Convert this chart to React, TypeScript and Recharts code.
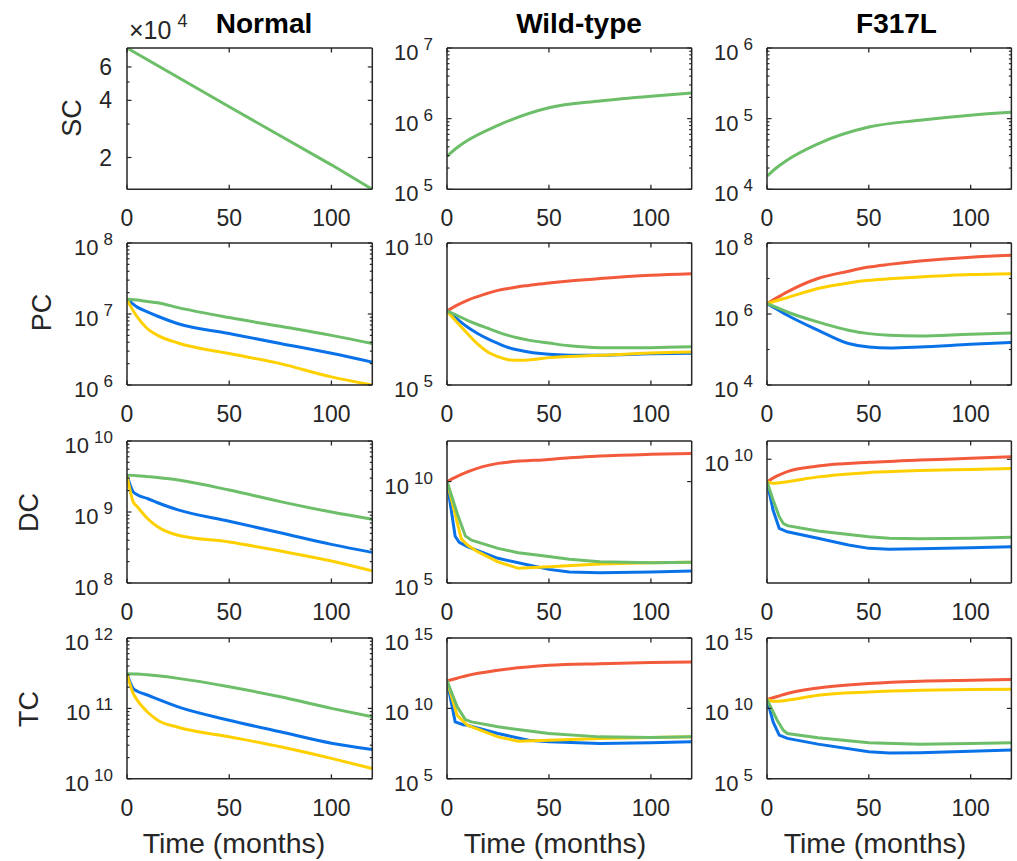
import React from 'react';
import { LineChart, Line, XAxis, YAxis } from 'recharts';

const FONT = '"Liberation Sans", Arial, Helvetica, sans-serif';
const AX = '#262626';
const RED = '#F25A3C';
const BLUE = '#0A72E8';
const YELLOW = '#FFD000';
const GREEN = '#6DBE69';

// ---------- data (months, cell counts) ----------
// SC
const T_SC_N = [0, 50, 100, 120];
const SC_N_G = [75500, 37000, 18300, 13600];
const T_SC_W = [0, 5, 10, 25, 50, 75, 100, 120];
const SC_W_G = [2.93e5, 3.9e5, 4.9e5, 8.05e5, 1.43e6, 1.78e6, 2.08e6, 2.3e6];
const T_SC_F = [0, 5, 10, 25, 50, 75, 100, 120];
const SC_F_G = [1.53e4, 2.05e4, 2.6e4, 4.4e4, 7.6e4, 9.5e4, 1.12e5, 1.23e5];

// PC
const T_PC_N = [0, 2, 5, 10, 15, 25, 50, 75, 100, 120];
const PC_N_G = [1.61e7, 1.6e7, 1.57e7, 1.5e7, 1.44e7, 1.23e7, 8.9e6, 6.7e6, 5.0e6, 3.83e6];
const PC_N_B = [1.61e7, 1.45e7, 1.25e7, 1.07e7, 9.3e6, 7.3e6, 5.3e6, 3.85e6, 2.8e6, 2.1e6];
const PC_N_Y = [1.61e7, 1.25e7, 9.1e6, 6.2e6, 5.0e6, 3.9e6, 2.77e6, 2.0e6, 1.3e6, 1.0e6];

const T_PC_W = [0, 5, 10, 15, 20, 25, 30, 35, 40, 50, 60, 75, 100, 120];
const PC_W_R = [4.0e7, 6.5e7, 9.6e7, 1.3e8, 1.7e8, 2.15e8, 2.5e8, 2.9e8, 3.2e8, 3.9e8, 4.6e8, 5.6e8, 7.3e8, 8.3e8];
const PC_W_G = [4e7, 2.8e7, 1.9e7, 1.35e7, 1.0e7, 7.3e6, 5.6e6, 4.5e6, 3.8e6, 3.0e6, 2.4e6, 2.07e6, 2.07e6, 2.2e6];
const PC_W_B = [4e7, 2.1e7, 1.1e7, 6.5e6, 4.2e6, 2.9e6, 2.1e6, 1.7e6, 1.45e6, 1.2e6, 1.12e6, 1.11e6, 1.26e6, 1.3e6];
const PC_W_Y = [4e7, 1.6e7, 6.5e6, 2.8e6, 1.45e6, 1.0e6, 7.8e5, 7.4e5, 7.6e5, 9.2e5, 1.0e6, 1.11e6, 1.34e6, 1.45e6];

const T_PC_F = [0, 5, 10, 25, 40, 50, 60, 75, 100, 120];
const PC_F_R = [1.96e6, 2.9e6, 4.2e6, 1.0e7, 1.6e7, 2.1e7, 2.5e7, 3.1e7, 4.0e7, 4.5e7];
const PC_F_Y = [1.96e6, 2.4e6, 2.9e6, 5.2e6, 7.5e6, 8.9e6, 9.8e6, 1.1e7, 1.29e7, 1.37e7];
const PC_F_G = [1.96e6, 1.5e6, 1.14e6, 5.96e5, 3.5e5, 2.8e5, 2.5e5, 2.4e5, 2.7e5, 2.9e5];
const PC_F_B = [1.96e6, 1.35e6, 9.2e5, 3.5e5, 1.47e5, 1.17e5, 1.1e5, 1.17e5, 1.4e5, 1.59e5];

// DC
const T_DC_N = [0, 3, 5, 10, 15, 25, 50, 75, 100, 120];
const DC_N_G = [3.3e9, 3.28e9, 3.25e9, 3.15e9, 3.05e9, 2.82e9, 2.04e9, 1.4e9, 1.0e9, 7.9e8];
const DC_N_B = [3.3e9, 1.93e9, 1.75e9, 1.55e9, 1.35e9, 1.07e9, 7.4e8, 5.1e8, 3.5e8, 2.7e8];
const DC_N_Y = [3.3e9, 1.4e9, 1.19e9, 8.1e8, 6.2e8, 4.7e8, 3.78e8, 2.82e8, 2.04e8, 1.48e8];

const T_DC_W_R = [0, 5, 10, 25, 50, 75, 100, 120];
const DC_W_R = [1e10, 1.8e10, 3.0e10, 7.9e10, 1.24e11, 1.8e11, 2.2e11, 2.45e11];
const T_DC_W_G = [0, 5, 9, 12, 25, 35, 50, 60, 75, 100, 120];
const DC_W_G = [1e10, 2.7e8, 2.1e7, 1.3e7, 5.1e6, 3.1e6, 2.0e6, 1.47e6, 1.12e6, 1.0e6, 1.05e6];
const T_DC_W_B = [0, 4, 6, 10, 25, 40, 50, 60, 75, 100, 120];
const DC_W_B = [1e10, 2e7, 1.0e7, 6.2e6, 1.65e6, 7.7e5, 4.7e5, 3.5e5, 3.2e5, 3.5e5, 3.9e5];
const T_DC_W_Y = [0, 4, 7, 10, 15, 25, 35, 50, 75, 100, 120];
const DC_W_Y = [1e10, 2.5e8, 1.5e7, 7.4e6, 3.5e6, 1.1e6, 5.3e5, 6.3e5, 8.6e5, 1.0e6, 1.05e6];

const T_DC_F_R = [0, 5, 10, 25, 50, 75, 100, 120];
const DC_F_R = [1.62e9, 2.6e9, 3.7e9, 5.8e9, 7.8e9, 9.4e9, 1.08e10, 1.23e10];
const T_DC_F_Y = [0, 3, 10, 25, 50, 75, 100, 120];
const DC_F_Y = [1.62e9, 1.42e9, 1.62e9, 2.4e9, 3.4e9, 4e9, 4.4e9, 4.7e9];
const T_DC_F_G = [0, 3, 6, 8, 10, 25, 50, 60, 75, 100, 120];
const DC_F_G = [1.62e9, 3.7e8, 9.5e7, 5.5e7, 4.6e7, 3e7, 1.87e7, 1.65e7, 1.6e7, 1.65e7, 1.8e7];
const T_DC_F_B = [0, 3, 6, 10, 25, 40, 50, 60, 75, 100, 120];
const DC_F_B = [1.62e9, 1.6e8, 3.7e7, 2.8e7, 1.65e7, 9.6e6, 7.3e6, 6.8e6, 7.0e6, 7.7e6, 8.3e6];

// TC
const T_TC_N = [0, 3, 5, 10, 15, 25, 50, 75, 100, 120];
const TC_N_G = [3.1e11, 3.09e11, 3.08e11, 3.0e11, 2.9e11, 2.67e11, 2.03e11, 1.46e11, 1.0e11, 7.6e10];
const TC_N_B = [3.1e11, 1.92e11, 1.75e11, 1.55e11, 1.35e11, 1.05e11, 6.8e10, 4.65e10, 3.2e10, 2.6e10];
const TC_N_Y = [3.1e11, 1.63e11, 1.31e11, 8.9e10, 6.8e10, 5.4e10, 3.95e10, 2.85e10, 1.95e10, 1.4e10];

const T_TC_W_R = [0, 5, 10, 25, 50, 75, 100, 120];
const TC_W_R = [9e11, 1.4e12, 2.2e12, 5.1e12, 1.15e13, 1.5e13, 1.8e13, 2.0e13];
const T_TC_W_G = [0, 5, 9, 12, 25, 50, 75, 100, 120];
const TC_W_G = [9e11, 1.3e10, 1.6e9, 1.1e9, 4.9e8, 1.66e8, 9.5e7, 8.7e7, 9.5e7];
const T_TC_W_B = [0, 4, 8, 10, 25, 40, 50, 75, 100, 120];
const TC_W_B = [9e11, 1.1e9, 7e8, 6.4e8, 1.66e8, 5.5e7, 4.2e7, 3.2e7, 3.6e7, 4.2e7];
const T_TC_W_Y = [0, 5, 10, 25, 35, 50, 75, 100, 120];
const TC_W_Y = [9e11, 3.2e9, 6.4e8, 9.5e7, 4.7e7, 5.5e7, 7.4e7, 8.7e7, 9.5e7];

const T_TC_F_R = [0, 5, 10, 25, 50, 75, 100, 120];
const TC_F_R = [4.3e10, 7e10, 1.15e11, 2.8e11, 5.8e11, 8.5e11, 1e12, 1.12e12];
const T_TC_F_Y = [0, 3, 10, 25, 50, 75, 100, 120];
const TC_F_Y = [4.3e10, 3.2e10, 3.8e10, 8.7e10, 1.48e11, 1.95e11, 2.2e11, 2.3e11];
const T_TC_F_G = [0, 5, 8, 10, 25, 50, 75, 100, 120];
const TC_F_G = [4.3e10, 1.45e9, 2.8e8, 1.66e8, 8.1e7, 3.6e7, 2.9e7, 3.2e7, 3.6e7];
const T_TC_F_B = [0, 3, 6, 10, 25, 50, 60, 75, 100, 120];
const TC_F_B = [4.3e10, 1.1e9, 1.26e8, 7.4e7, 2.9e7, 8.2e6, 6.9e6, 7.2e6, 9.2e6, 1.1e7];

// ---------- axis ticks ----------
const X_TICKS = [0, 50, 100];
const COL_TITLES = ['Normal', 'Wild-type', 'F317L'];
const ROW_LABELS = ['SC', 'PC', 'DC', 'TC'];
const X_LABEL = 'Time (months)';

const Y_SC_N = { domain: [13600, 75500], major: [20000, 40000, 60000], minor: [30000, 50000] };
const Y_SC_W = { domain: [1e5, 1e7], major: [1e5, 1e6, 1e7] };
const Y_SC_F = { domain: [1e4, 1e6], major: [1e4, 1e5, 1e6] };
const Y_PC_N = { domain: [1e6, 1e8], major: [1e6, 1e7, 1e8] };
const Y_PC_W = { domain: [1e5, 1e10], major: [1e5, 1e10], minor: [] as number[] };
const Y_PC_F = { domain: [1e4, 1e8], major: [1e4, 1e6, 1e8], minor: [1e5, 1e7] };
const Y_DC_N = { domain: [1e8, 1e10], major: [1e8, 1e9, 1e10] };
const Y_DC_W = { domain: [1e5, 1e12], major: [1e5, 1e10], minor: [] as number[] };
const Y_DC_F = { domain: [4.4e5, 4.4e10], major: [1e10], minor: [] as number[] };
const Y_TC_N = { domain: [1e10, 1e12], major: [1e10, 1e11, 1e12] };
const Y_TC_W = { domain: [1e5, 1e15], major: [1e5, 1e10, 1e15], minor: [] as number[] };
const Y_TC_F = { domain: [1e5, 1e15], major: [1e5, 1e10, 1e15], minor: [] as number[] };

function decadeMinors(lo: number, hi: number) {
  const out: number[] = [];
  for (let k = Math.floor(Math.log10(lo)); k <= Math.ceil(Math.log10(hi)); k++) {
    for (let m = 2; m <= 9; m++) {
      const v = m * Math.pow(10, k);
      if (v > lo && v < hi) out.push(v);
    }
  }
  return out;
}

// ---------- layout ----------
const COL_X = [126.7, 447.3, 767.3];
const COL_W = [245.3, 244.7, 244.4];
const ROW_Y = [47.7, 242.7, 441, 637.9];
const ROW_H = [141.3, 142, 142, 140.8];
const ML = 110, MT = 30, MR = 12, MB = 50;

type Series = { t: number[]; v: number[]; color: string; curve: 'monotone' | 'linear' };
type YCfg = { domain: number[]; major: number[]; minor?: number[] };
type Panel = { y: YCfg; series: Series[]; linear?: boolean };

const s = (t: number[], v: number[], color: string, curve: 'monotone' | 'linear' = 'monotone'): Series => ({ t, v, color, curve });

const PANELS: Panel[][] = [
  [
    { y: Y_SC_N, series: [s(T_SC_N, SC_N_G, GREEN, 'linear')], linear: true },
    { y: Y_SC_W, series: [s(T_SC_W, SC_W_G, GREEN)] },
    { y: Y_SC_F, series: [s(T_SC_F, SC_F_G, GREEN)] },
  ],
  [
    { y: Y_PC_N, series: [s(T_PC_N, PC_N_B, BLUE), s(T_PC_N, PC_N_Y, YELLOW), s(T_PC_N, PC_N_G, GREEN)] },
    { y: Y_PC_W, series: [s(T_PC_W, PC_W_R, RED), s(T_PC_W, PC_W_B, BLUE), s(T_PC_W, PC_W_Y, YELLOW), s(T_PC_W, PC_W_G, GREEN)] },
    { y: Y_PC_F, series: [s(T_PC_F, PC_F_R, RED), s(T_PC_F, PC_F_B, BLUE), s(T_PC_F, PC_F_Y, YELLOW), s(T_PC_F, PC_F_G, GREEN)] },
  ],
  [
    { y: Y_DC_N, series: [s(T_DC_N, DC_N_B, BLUE), s(T_DC_N, DC_N_Y, YELLOW), s(T_DC_N, DC_N_G, GREEN)] },
    { y: Y_DC_W, series: [s(T_DC_W_R, DC_W_R, RED), s(T_DC_W_B, DC_W_B, BLUE, 'linear'), s(T_DC_W_Y, DC_W_Y, YELLOW, 'linear'), s(T_DC_W_G, DC_W_G, GREEN, 'linear')] },
    { y: Y_DC_F, series: [s(T_DC_F_R, DC_F_R, RED), s(T_DC_F_B, DC_F_B, BLUE, 'linear'), s(T_DC_F_Y, DC_F_Y, YELLOW), s(T_DC_F_G, DC_F_G, GREEN, 'linear')] },
  ],
  [
    { y: Y_TC_N, series: [s(T_TC_N, TC_N_B, BLUE), s(T_TC_N, TC_N_Y, YELLOW), s(T_TC_N, TC_N_G, GREEN)] },
    { y: Y_TC_W, series: [s(T_TC_W_R, TC_W_R, RED), s(T_TC_W_B, TC_W_B, BLUE, 'linear'), s(T_TC_W_Y, TC_W_Y, YELLOW, 'linear'), s(T_TC_W_G, TC_W_G, GREEN, 'linear')] },
    { y: Y_TC_F, series: [s(T_TC_F_R, TC_F_R, RED), s(T_TC_F_B, TC_F_B, BLUE, 'linear'), s(T_TC_F_Y, TC_F_Y, YELLOW), s(T_TC_F_G, TC_F_G, GREEN, 'linear')] },
  ],
];

const isIn = (arr: number[], v: number) => arr.some((m) => Math.abs(m - v) / m < 1e-6);

function makeXTick(side: 'b' | 't') {
  return (props: any) => {
    const { x, y, payload } = props;
    const dir = side === 'b' ? -1 : 1;
    return (
      <g>
        <line x1={x} x2={x} y1={y} y2={y + dir * 4.5} stroke={AX} strokeWidth={1.3} />
        {side === 'b' && (
          <text x={x} y={y + 37} textAnchor="middle" fill={AX} fontFamily={FONT} fontSize={23}>
            {payload.value}
          </text>
        )}
      </g>
    );
  };
}

function makeYTick(major: number[], side: 'l' | 'r', linear: boolean) {
  return (props: any) => {
    const { x, y, payload } = props;
    const v = payload.value as number;
    const isMajor = isIn(major, v);
    const len = isMajor ? 4.5 : 2.5;
    const dir = side === 'l' ? 1 : -1;
    let label: React.ReactNode = null;
    if (side === 'l' && isMajor) {
      if (linear) {
        label = (
          <text x={x - 15} y={y + 8} textAnchor="end" fill={AX} fontFamily={FONT} fontSize={23}>
            {Math.round(v / 1e4)}
          </text>
        );
      } else {
        label = (
          <text x={x - 14} y={y + 12} textAnchor="end" fill={AX} fontFamily={FONT} fontSize={22}>
            10
            <tspan dx={5} dy={-10} fontSize={17}>
              {Math.round(Math.log10(v))}
            </tspan>
          </text>
        );
      }
    }
    return (
      <g>
        <line x1={x} x2={x + dir * len} y1={y} y2={y} stroke={AX} strokeWidth={1.2} />
        {label}
      </g>
    );
  };
}

function PanelChart({ p, r, c }: { p: Panel; r: number; c: number }) {
  const w = COL_W[c];
  const h = ROW_H[r];
  const minor = p.y.minor !== undefined ? p.y.minor : decadeMinors(p.y.domain[0], p.y.domain[1]);
  const ticks = [...p.y.major, ...minor].sort((a, b) => a - b);
  const dom = p.y.domain as [number, number];
  return (
    <div style={{ position: 'absolute', left: COL_X[c] - ML, top: ROW_Y[r] - MT }}>
      <LineChart width={ML + w + MR} height={MT + h + MB} margin={{ top: MT - 1, right: MR - 1, bottom: MB - 1, left: ML - 1 }}>
        <XAxis xAxisId="b" dataKey="t" type="number" domain={[0, 120]} ticks={X_TICKS} interval={0}
          height={1} tickSize={0} tickMargin={0} tickLine={false} allowDataOverflow
          axisLine={{ stroke: AX, strokeWidth: 1.5 }} tick={makeXTick('b')} />
        <XAxis xAxisId="t" orientation="top" dataKey="t" type="number" domain={[0, 120]} ticks={X_TICKS} interval={0}
          height={1} tickSize={0} tickMargin={0} tickLine={false} allowDataOverflow
          axisLine={{ stroke: AX, strokeWidth: 1.5 }} tick={makeXTick('t')} />
        <YAxis yAxisId="l" type="number" scale="log" domain={dom} ticks={ticks} interval={0} allowDataOverflow
          width={1} tickSize={0} tickMargin={0} tickLine={false}
          axisLine={{ stroke: AX, strokeWidth: 1.5 }} tick={makeYTick(p.y.major, 'l', !!p.linear)} />
        <YAxis yAxisId="r" orientation="right" type="number" scale="log" domain={dom} ticks={ticks} interval={0} allowDataOverflow
          width={1} tickSize={0} tickMargin={0} tickLine={false}
          axisLine={{ stroke: AX, strokeWidth: 1.5 }} tick={makeYTick(p.y.major, 'r', !!p.linear)} />
        {p.series.map((se, i) => (
          <Line key={i} xAxisId="b" yAxisId="l" data={se.t.map((t, j) => ({ t, v: se.v[j] }))}
            dataKey="v" type={se.curve} stroke={se.color} strokeWidth={3} dot={false}
            isAnimationActive={false} />
        ))}
      </LineChart>
    </div>
  );
}

const TITLE_X = [264, 579, 896.5];
const YLAB = [
  { x: 71, y: 118 },
  { x: 41.7, y: 312.5 },
  { x: 28.5, y: 512.5 },
  { x: 28.5, y: 709 },
];
const XLAB_X = [234, 555, 875];

export default function App() {
  return (
    <div style={{ position: 'absolute', left: 0, top: 0, width: 1017, height: 861, background: '#fff', overflow: 'hidden' }}>
      {PANELS.map((row, r) => row.map((p, c) => <PanelChart key={`${r}-${c}`} p={p} r={r} c={c} />))}
      <svg width={1017} height={861} style={{ position: 'absolute', left: 0, top: 0, pointerEvents: 'none' }}>
        {COL_TITLES.map((t, i) => (
          <text key={t} x={TITLE_X[i]} y={33} textAnchor="middle" fontFamily={FONT} fontWeight="bold" fontSize={28} fill="#000">
            {t}
          </text>
        ))}
        <text x={129} y={39} fontFamily={FONT} fontSize={25} fill={AX}>
          ×10
          <tspan dx={6} dy={-12} fontSize={18}>4</tspan>
        </text>
        {ROW_LABELS.map((l, i) => (
          <text key={l} x={YLAB[i].x} y={YLAB[i].y} dy="0.36em" textAnchor="middle" fontFamily={FONT} fontSize={27} fill={AX}
            transform={`rotate(-90 ${YLAB[i].x} ${YLAB[i].y})`}>
            {l}
          </text>
        ))}
        {XLAB_X.map((x, i) => (
          <text key={i} x={x} y={853} textAnchor="middle" fontFamily={FONT} fontSize={28.5} fill={AX}>
            {X_LABEL}
          </text>
        ))}
      </svg>
    </div>
  );
}
